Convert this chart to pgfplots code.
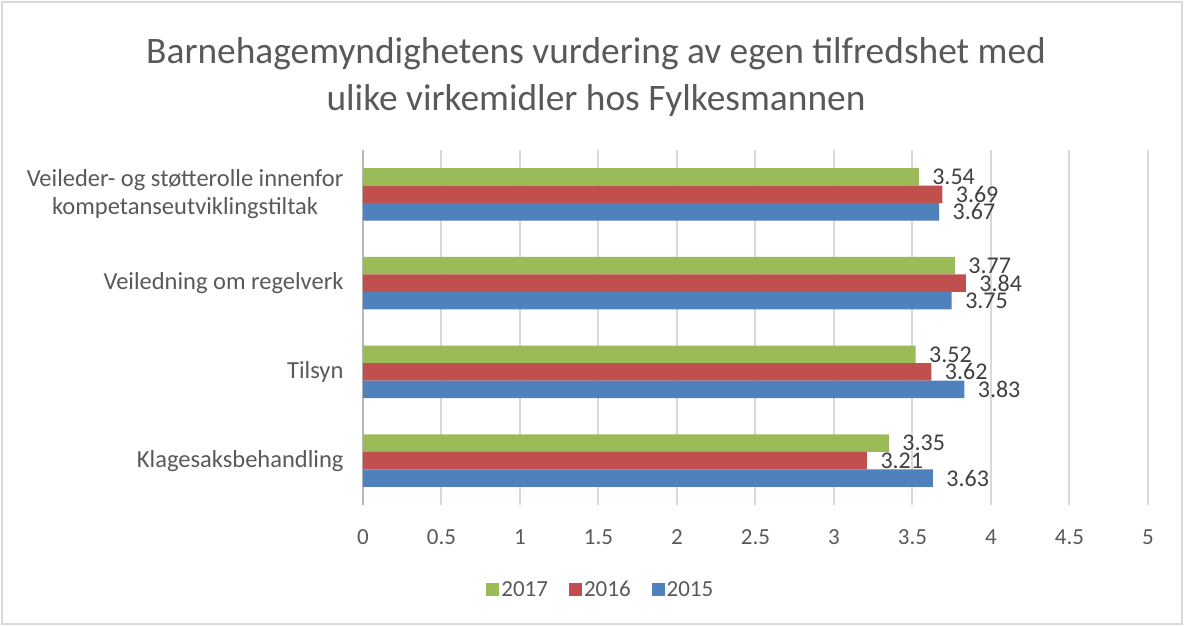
\documentclass[border=0pt]{standalone}
\usepackage{pgfplots}
\pgfplotsset{compat=1.18}
\usepackage{fontspec}
\setmainfont{Carlito}
\definecolor{cgreen}{HTML}{9BBB59}
\definecolor{cred}{HTML}{C0504D}
\definecolor{cblue}{HTML}{4F81BD}
\definecolor{txt}{HTML}{595959}
\definecolor{lbl}{HTML}{404040}
\definecolor{gridc}{HTML}{D9D9D9}
\begin{document}
\begin{tikzpicture}
\useasboundingbox (-363pt,-121pt) rectangle (821pt,505pt);
\draw[gridc,line width=1.5pt] (-361pt,-119pt) rectangle (819pt,503pt);
\begin{axis}[
  name=ax, at={(0,0)}, anchor=south west,
  scale only axis, width=785pt, height=355pt,
  xbar, bar width=17.5pt,
  xmin=0, xmax=5, ymin=-0.5, ymax=3.5,
  xtick={0,0.5,...,5},
  xticklabels={0,0.5,1,1.5,2,2.5,3,3.5,4,4.5,5},
  ytick={0,1,2,3},
  yticklabels={Klagesaksbehandling,Tilsyn,Veiledning om regelverk,{Veileder- og støtterolle innenfor\\kompetanseutviklingstiltak}},
  yticklabel style={align=center,font=\fontsize{24.5}{28}\selectfont,text=txt,xshift=-16pt},
  xticklabel style={font=\fontsize{23}{27}\selectfont,text=txt,yshift=-21pt},
  /pgf/number format/assume math mode=true,
  axis x line*=bottom, axis y line*=left,
  x axis line style={draw=none},
  y axis line style={draw=gridc!85!black,line width=1.5pt},
  major tick length=0pt,
  ytick style={draw=none}, xtick style={draw=none},
  xmajorgrids=true, ymajorgrids=false, major grid style={draw=gridc,line width=2pt},
  nodes near coords,
  nodes near coords style={font=\fontsize{24}{28}\selectfont,text=lbl,anchor=west,xshift=10pt},
  point meta=explicit symbolic,
  legend style={at={(0.303,-0.239)},anchor=center,draw=none,legend columns=3,
    font=\fontsize{23}{27}\selectfont,text=txt,
    /tikz/every even column/.append style={column sep=19pt}},
  legend image code/.code={\fill[#1] (0pt,-6.5pt) rectangle (13pt,6.5pt);},
]
\addplot[fill=cgreen,draw=none,bar shift=17.5pt] coordinates {(3.35,0)[3.35] (3.52,1)[3.52] (3.77,2)[3.77] (3.54,3)[3.54]};
\addplot[fill=cred,draw=none,bar shift=0pt] coordinates {(3.21,0)[3.21] (3.62,1)[3.62] (3.84,2)[3.84] (3.69,3)[3.69]};
\addplot[fill=cblue,draw=none,bar shift=-17.5pt] coordinates {(3.63,0)[3.63] (3.83,1)[3.83] (3.75,2)[3.75] (3.67,3)[3.67]};
\legend{2017,2016,2015}
\end{axis}
\node[align=center,text=txt,font=\fontsize{37.4}{47}\selectfont] at (233pt,428pt) {Barnehagemyndighetens vurdering av egen tilfredshet med\\ulike virkemidler hos Fylkesmannen};
\end{tikzpicture}
\end{document}
